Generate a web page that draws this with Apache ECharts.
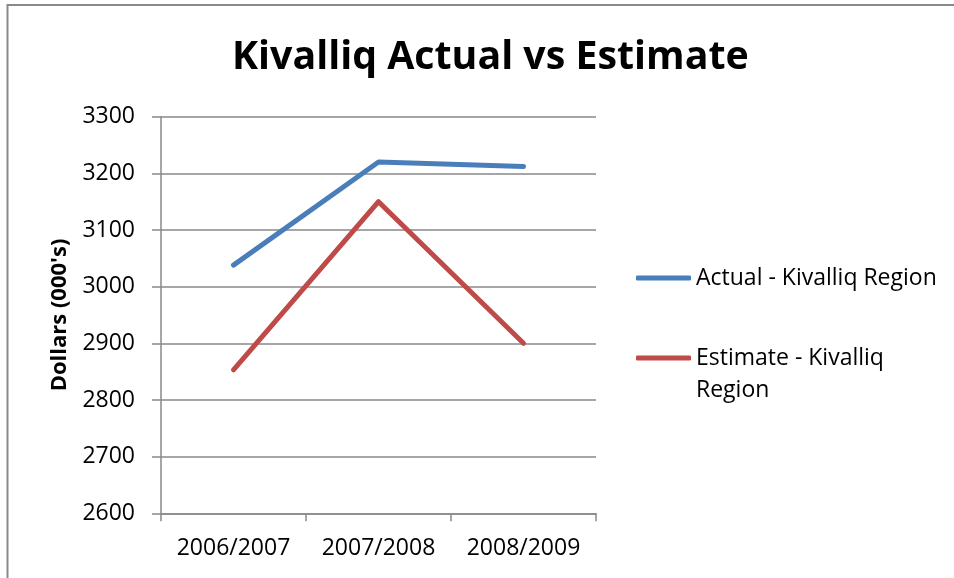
<!DOCTYPE html>
<html>
<head>
<meta charset="utf-8">
<title>Kivalliq Actual vs Estimate</title>
<script src="https://cdn.jsdelivr.net/npm/echarts@6/dist/echarts.min.js"></script>
<style>
  html, body { margin: 0; padding: 0; background: #ffffff; }
  #chart { width: 954px; height: 578px; }
</style>
</head>
<body>
<div id="chart"></div>
<script>
// Fiscal years on the category axis
const years = ['2006/2007', '2007/2008', '2008/2009'];

// Values in thousands of dollars
const actualKivalliq = [3038, 3220, 3212];
const estimateKivalliq = [2853, 3150, 2900];

// Value axis range and step
const yMin = 2600;
const yMax = 3300;
const yStep = 100;

const seriesNames = ['Actual - Kivalliq Region', 'Estimate - Kivalliq Region'];

const FONT = '"Open Sans", "Noto Sans", sans-serif';
const GRAY = '#898989';
const BLUE = '#4A7EBB';
const RED = '#BE4B48';

const chart = echarts.init(document.getElementById('chart'), null, { renderer: 'canvas' });

const legendCommon = {
  orient: 'vertical',
  left: 636,
  padding: 0,
  icon: 'roundRect',
  itemWidth: 55,
  itemHeight: 5,
  selectedMode: false,
  textStyle: { fontFamily: FONT, fontSize: 23, color: '#000', lineHeight: 32 }
};

chart.setOption({
  animation: false,
  backgroundColor: '#ffffff',
  title: {
    text: 'Kivalliq Actual vs Estimate',
    left: 232,
    top: 38,
    padding: 0,
    textStyle: { fontFamily: FONT, fontSize: 39.3, fontWeight: 'bold', color: '#000' }
  },
  graphic: [{
    type: 'polyline',
    silent: true,
    shape: { points: [[7.5, 578], [7.5, 5], [954, 5]] },
    style: { stroke: GRAY, lineWidth: 2, fill: null }
  }],
  legend: [
    Object.assign({}, legendCommon, {
      top: 262,
      data: [{ name: seriesNames[0] }]
    }),
    Object.assign({}, legendCommon, {
      top: 310,
      data: [{ name: seriesNames[1] }],
      // blank first line keeps the wrapped label's first row level with the swatch
      formatter: function (name) { return '\n' + name.replace(' Region', '\nRegion'); }
    })
  ],
  grid: { left: 161, right: 358, top: 116.7, bottom: 64.7 },
  xAxis: {
    type: 'category',
    data: years,
    boundaryGap: true,
    axisLine: { lineStyle: { color: GRAY, width: 1.5 } },
    axisTick: { show: true, length: 8, alignWithLabel: false, interval: 0, lineStyle: { color: GRAY, width: 1.5 } },
    axisLabel: { fontFamily: FONT, fontSize: 23, color: '#000', margin: 24, interval: 0 },
    splitLine: { show: false }
  },
  yAxis: {
    type: 'value',
    min: yMin,
    max: yMax,
    interval: yStep,
    name: "Dollars (000's)",
    nameLocation: 'middle',
    nameGap: 90,
    nameRotate: 90,
    nameTextStyle: { fontFamily: FONT, fontSize: 22, fontWeight: 'bold', color: '#000' },
    axisLine: { show: true, lineStyle: { color: GRAY, width: 1.5 } },
    axisTick: { show: true, length: 9, lineStyle: { color: GRAY, width: 1.5 } },
    axisLabel: {
      fontFamily: FONT, fontSize: 23, color: '#000', margin: 26,
      formatter: function (v) { return String(v); }
    },
    splitLine: { show: true, lineStyle: { color: GRAY, width: 1.5 } }
  },
  series: [
    {
      name: seriesNames[0],
      type: 'line',
      data: actualKivalliq,
      symbol: 'none',
      color: BLUE,
      lineStyle: { color: BLUE, width: 5, cap: 'round', join: 'round' }
    },
    {
      name: seriesNames[1],
      type: 'line',
      data: estimateKivalliq,
      symbol: 'none',
      color: RED,
      lineStyle: { color: RED, width: 5, cap: 'round', join: 'round' }
    }
  ]
});
</script>
</body>
</html>
